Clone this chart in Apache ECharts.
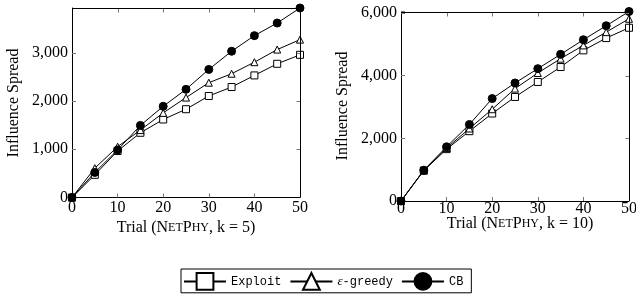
<!DOCTYPE html>
<html><head><meta charset="utf-8">
<script src="https://cdn.jsdelivr.net/npm/echarts@6/dist/echarts.min.js"></script>
<style>html,body{margin:0;padding:0;background:#fff}#c{width:636px;height:306px}</style>
</head><body><div id="c"></div>
<script>
const trials = [0,5,10,15,20,25,30,35,40,45,50];
const seriesNames = ['Exploit','ε-greedy','CB'];
// NetPHY, k = 5
const exploitK5 = [0,470,965,1342,1618,1831,2105,2291,2532,2773,2959];
const greedyK5  = [0,608,1054,1398,1755,2072,2381,2567,2806,3068,3274];
const cbK5      = [0,520,986,1495,1891,2243,2656,3033,3357,3618,3930];
// NetPHY, k = 10
const exploitK10 = [0,970,1656,2229,2793,3322,3800,4277,4809,5201,5531];
const greedyK10  = [0,975,1690,2315,2930,3589,4086,4544,4968,5392,5818];
const cbK10      = [0,985,1730,2443,3270,3768,4225,4682,5149,5595,6050];
const xMax = 50, xTickStep = 10;
const xTickVals = [0,10,20,30,40,50];
const yMaxK5 = 3930, yMaxK10 = 6050;
const yTicksK5 = 1000, yTicksK10 = 2000;
const yTickValsK5 = [0,1000,2000,3000];
const yTickValsK10 = [0,2000,4000,6000];
const yTitle = 'Influence Spread';

const serif = 'Liberation Serif';
const mono = 'Liberation Mono';
function pairs(ys){ return trials.map((x,i)=>[x, ys[i]]); }

const chart = echarts.init(document.getElementById('c'));
const grids = [
  {left:72, top:8, width:228, height:189.5, outerBoundsMode:'none'},
  {left:401, top:11.5, width:228, height:189.5, outerBoundsMode:'none'}
];
function tickStyle(){ return {show:true, inside:true, length:4, lineStyle:{color:'#777', width:1}}; }
function axLine(){ return {show:true, onZero:false, lineStyle:{color:'#000', width:1}}; }
function xAxis(gi, margin){
  return {type:'value', gridIndex:gi, min:0, max:xMax, interval:xTickStep, position:'bottom',
    axisLine:axLine(), axisTick:tickStyle(), splitLine:{show:false},
    axisLabel:{fontFamily:serif, fontSize:16, color:'#000', margin:margin}};
}
function yAxis(gi, max, interval){
  return {type:'value', gridIndex:gi, min:0, max:max, interval:interval, position:'left',
    axisLine:axLine(), axisTick:tickStyle(), splitLine:{show:false},
    axisLabel:{fontFamily:serif, fontSize:16, color:'#000', margin:4,
      formatter: v => (v % interval === 0 ? v.toLocaleString('en-US') : '')}};
}
const markers = [
  {symbol:'rect', size:7, fill:'#fff'},
  {symbol:'triangle', size:7, fill:'#fff'},
  {symbol:'circle', size:8, fill:'#000'}
];
function mkSeries(gi, datas){
  return datas.map((d,i)=>({
    type:'line', name:seriesNames[i], xAxisIndex:gi, yAxisIndex:gi,
    data:pairs(d), symbol:markers[i].symbol, symbolSize:markers[i].size,
    showAllSymbol:true, animation:false, z:2+i,
    lineStyle:{color:'#000', width:1},
    itemStyle:{color:markers[i].fill, borderColor:'#000', borderWidth:1, opacity:1}
  }));
}
const rich = {
  n:{fontFamily:serif, fontSize:16, fill:'#000', color:'#000'},
  sc:{fontFamily:serif, fontSize:12, fill:'#000', color:'#000'}
};
function xTitle(k, x, y){
  return {type:'text', x:x, y:y, silent:true, z:50,
    style:{text:'{n|Trial (N}{sc|ET}{n|P}{sc|HY}{n|, k = '+k+')}', rich:rich,
      align:'center', verticalAlign:'middle', fill:'#000', font:'16px "Liberation Serif"'}};
}
function yTitleEl(x, y){
  return {type:'text', x:x, y:y, rotation:Math.PI/2, silent:true, z:50,
    style:{text:yTitle, align:'center', verticalAlign:'middle', fill:'#000', font:'16px "Liberation Serif"'}};
}

chart.setOption({
  grid:grids,
  xAxis:[xAxis(0,2), xAxis(1,0)],
  yAxis:[yAxis(0,yMaxK5,yTicksK5), yAxis(1,yMaxK10,yTicksK10)],
  legend:{
    data:seriesNames, left:181, top:269, orient:'horizontal',
    itemWidth:42, itemHeight:21, itemGap:8,
    borderColor:'#000', borderWidth:1, padding:[3,8,2,2], borderRadius:0,
    formatter: n => n==='ε-greedy' ? '{e|ε}{m|-greedy}' : '{m|'+n+'}',
    textStyle:{rich:{
      m:{fontFamily:mono, fontSize:12, color:'#000'},
      e:{fontFamily:serif, fontStyle:'italic', fontSize:13, color:'#000'}
    }}
  },
  series:[...mkSeries(0,[exploitK5,greedyK5,cbK5]), ...mkSeries(1,[exploitK10,greedyK10,cbK10])]
});

// top and right frame edges with inward ticks, positioned through the chart's own scales
function frame(si, yMax, yTickVals){
  const px = v => chart.convertToPixel({seriesIndex:si}, v);
  const lo = px([0,0]), hi = px([xMax,yMax]);
  const xL = lo[0], xR = Math.round(hi[0]) + 0.5, yB = lo[1], yT = Math.round(hi[1]) + 0.5;
  const els = [{type:'polyline', silent:true, z:60,
    shape:{points:[[xL,yT],[xR,yT],[xR,yB]]},
    style:{fill:null, stroke:'#000', lineWidth:1}}];
  xTickVals.slice(1,-1).forEach(t => {
    const x = Math.round(px([t,0])[0]) + 0.5;
    els.push({type:'line', silent:true, z:59, shape:{x1:x, y1:yT, x2:x, y2:yT+4},
      style:{stroke:'#777', lineWidth:1}});
  });
  yTickVals.slice(1).forEach(t => {
    const y = Math.round(px([0,t])[1]) + 0.5;
    els.push({type:'line', silent:true, z:59, shape:{x1:xR-4, y1:y, x2:xR, y2:y},
      style:{stroke:'#777', lineWidth:1}});
  });
  return els;
}

chart.setOption({
  graphic:[xTitle(5,186,228), xTitle(10,520,224), yTitleEl(14,103), yTitleEl(343,106),
           ...frame(0, yMaxK5, yTickValsK5), ...frame(3, yMaxK10, yTickValsK10)]
});
</script></body></html>
